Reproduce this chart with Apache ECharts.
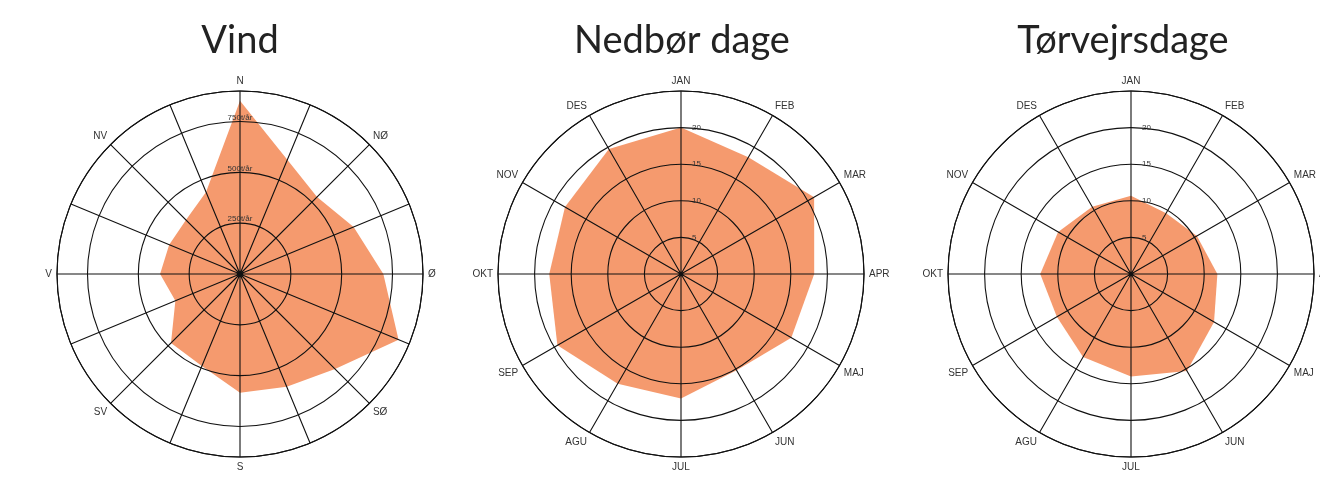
<!DOCTYPE html>
<html><head><meta charset="utf-8">
<script src="https://cdn.jsdelivr.net/npm/echarts@6/dist/echarts.min.js"></script>
<style>html,body{margin:0;padding:0;background:#fff}#c{width:1320px;height:484px}</style>
</head><body><div id="c"></div>
<script>
// ---- data ----
const titles = ['Vind', 'Nedbør dage', 'Tørvejrsdage'];
const windDirections = ['N','NNØ','NØ','ØNØ','Ø','ØSØ','SØ','SSØ','S','SSV','SV','VSV','V','VNV','NV','NNV'];
const windLabelled = ['N','NØ','Ø','SØ','S','SV','V','NV'];
const windValues = [852, 608, 536, 605, 705, 844, 661, 600, 584, 490, 480, 344, 393, 377, 376, 436];
const windTicks = [250, 500, 750];
const windMax = 900;
const months = ['JAN','FEB','MAR','APR','MAJ','JUN','JUL','AGU','SEP','OKT','NOV','DES'];
const rainDays = [20.0, 18.4, 21.0, 18.2, 17.4, 15.2, 17.0, 17.3, 19.5, 18.0, 18.3, 19.7];
const dryDays  = [10.7, 9.6, 10.4, 11.8, 13.1, 15.3, 14.0, 13.1, 11.7, 12.4, 11.5, 10.6];
const dayTicks = [5, 10, 15, 20];
const dayMax = 25;

// ---- layout / style ----
const centersX = [240, 681, 1131];
const centerY = 274;
const R = 183;
const titleX = [240, 682, 1123];
const ORANGE = '#f59a6e';
const LINE = '#111';

// radar goes counter-clockwise; reorder so it matches the clockwise polar grid
function ccw(arr) { return [arr[0]].concat(arr.slice(1).reverse()); }

const charts = [
  { cats: windDirections, shown: windLabelled, vals: windValues, max: windMax, interval: 250, ticks: windTicks, unit: 't/år' },
  { cats: months, shown: months, vals: rainDays, max: dayMax, interval: 5, ticks: dayTicks, unit: '' },
  { cats: months, shown: months, vals: dryDays, max: dayMax, interval: 5, ticks: dayTicks, unit: '' }
];

const option = {
  backgroundColor: '#fff',
  animation: false,
  title: titles.map((t, i) => ({
    text: t, left: titleX[i], top: 22, padding: 0, textAlign: 'center',
    textStyle: { fontFamily: 'Lato', fontSize: 38, fontWeight: 'normal', color: '#222' }
  })),
  polar: charts.map((c, i) => ({ center: [centersX[i], centerY], radius: [0, R] })),
  angleAxis: charts.map((c, i) => {
    const step = 360 / c.cats.length;
    return {
      polarIndex: i, type: 'value', min: 0, max: 360, interval: step, startAngle: 90, clockwise: true, z: 5,
      axisLine: { show: true, lineStyle: { color: LINE, width: 1.1 } },
      axisTick: { show: false },
      axisLabel: {
        margin: 5, fontSize: 10, color: '#333', fontFamily: 'Liberation Sans',
        formatter: v => {
          const idx = Math.round(v / step);
          if (idx >= c.cats.length) return '';
          const name = c.cats[idx];
          return c.shown.indexOf(name) >= 0 ? name : '';
        }
      },
      splitLine: { show: true, lineStyle: { color: LINE, width: 1.1 } }
    };
  }),
  radiusAxis: charts.map((c, i) => ({
    polarIndex: i, type: 'value', min: 0, max: c.max, interval: c.interval, z: 5,
    axisLine: { show: false }, axisTick: { show: false },
    splitLine: { show: true, lineStyle: { color: LINE, width: 1.1 } },
    axisLabel: i === 0
      ? { margin: 0, align: 'center', verticalAlign: 'bottom', fontSize: 8, color: '#333', fontFamily: 'Liberation Sans',
          formatter: v => c.ticks.indexOf(v) >= 0 ? v + c.unit : '' }
      : { margin: -11, align: 'left', verticalAlign: 'middle', fontSize: 8, color: '#333', fontFamily: 'Liberation Sans',
          formatter: v => c.ticks.indexOf(v) >= 0 ? String(v) : '' }
  })),
  radar: charts.map((c, i) => ({
    center: [centersX[i], centerY], radius: R, startAngle: 90, shape: 'circle', silent: true,
    indicator: ccw(c.cats).map(n => ({ name: n, min: 0, max: c.max })),
    axisName: { show: false }, axisLine: { show: false }, splitLine: { show: false },
    splitArea: { show: false }, axisTick: { show: false }, axisLabel: { show: false }
  })),
  series: charts.map((c, i) => ({
    type: 'radar', radarIndex: i, z: 1, silent: true, symbol: 'none',
    lineStyle: { width: 0 }, areaStyle: { color: ORANGE, opacity: 1 },
    data: [{ value: ccw(c.vals) }]
  }))
};

const chart = echarts.init(document.getElementById('c'), null, { renderer: 'canvas' });
chart.setOption(option);
</script>
</body></html>
